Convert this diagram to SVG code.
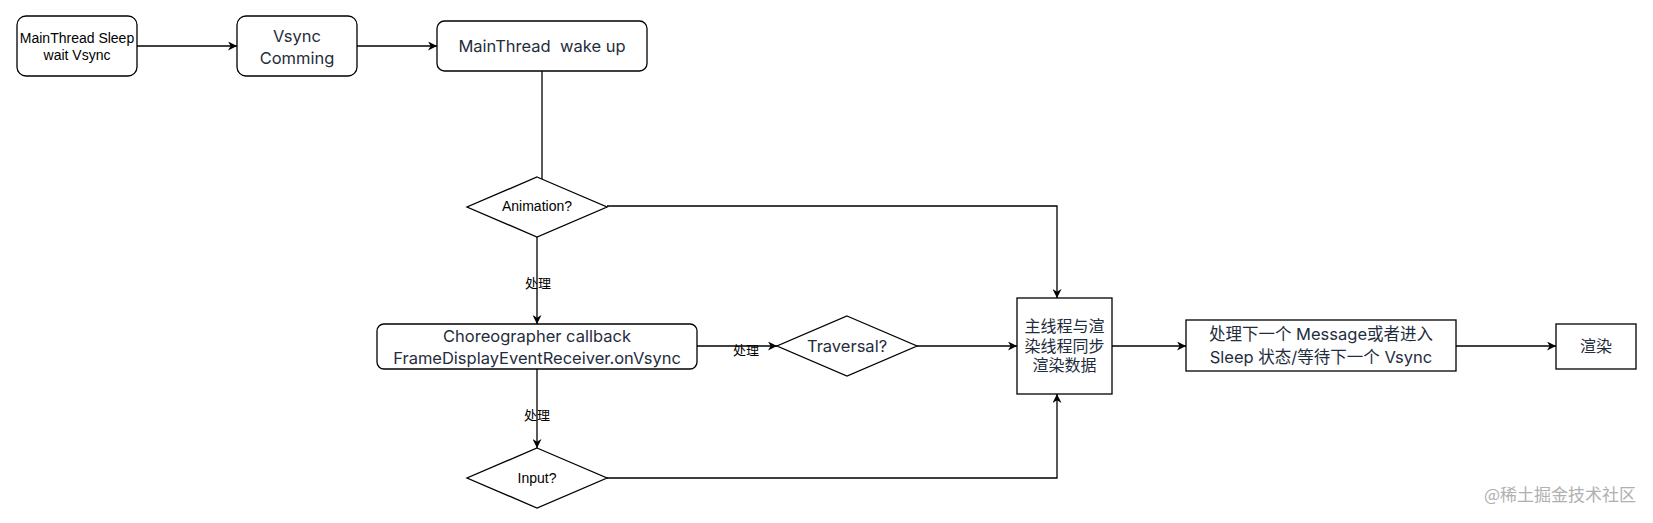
<svg xmlns="http://www.w3.org/2000/svg" width="1653" height="523" viewBox="0 0 1653 523">
<style>
.box{fill:#fff;stroke:#000;stroke-width:1.3}
.t14{font-family:"Liberation Sans",Arial,sans-serif;font-size:14px;fill:#000;text-anchor:middle;dominant-baseline:central}
.t16{font-family:Inter,"Noto Sans CJK SC",sans-serif;font-size:16.5px;fill:#1f2d3d;text-anchor:middle;dominant-baseline:central}
.cjk{font-family:Inter,"Noto Sans CJK SC",sans-serif;font-size:16px;fill:#1f2d3d;text-anchor:middle;dominant-baseline:central}
.lbl{font-family:"Noto Sans CJK SC",sans-serif;font-size:13px;fill:#000;text-anchor:middle;dominant-baseline:central}
.edge{fill:none;stroke:#000;stroke-width:1.3}
.wm{font-family:"Noto Sans CJK SC",sans-serif;font-size:17px;fill:#b0b0b0;text-anchor:end;dominant-baseline:central}
</style>
<defs>
<marker id="arr" viewBox="0 0 10 10" refX="10" refY="5" markerWidth="9" markerHeight="9" markerUnits="userSpaceOnUse" orient="auto">
<path d="M0,0 L10,5 L0,10 L3,5 z" fill="#000"/>
</marker>
</defs>
<rect width="1653" height="523" fill="#fff"/>
<g id="connectors">
<path class="edge" d="M137,46 H237" marker-end="url(#arr)"/>
<path class="edge" d="M357,46 H437" marker-end="url(#arr)"/>
<path class="edge" d="M542,71 V179"/>
<path class="edge" d="M537,237 V324" marker-end="url(#arr)"/>
<path class="edge" d="M607,206 H1057 V298" marker-end="url(#arr)"/>
<path class="edge" d="M697,346 H777" marker-end="url(#arr)"/>
<path class="edge" d="M537,369 V448" marker-end="url(#arr)"/>
<path class="edge" d="M917,346 H1017" marker-end="url(#arr)"/>
<path class="edge" d="M607,478 H1057 V394" marker-end="url(#arr)"/>
<path class="edge" d="M1112,346 H1186" marker-end="url(#arr)"/>
<path class="edge" d="M1456,346 H1556" marker-end="url(#arr)"/>
<text class="lbl" x="538" y="282">处理</text>
<text class="lbl" x="746" y="349">处理</text>
<text class="lbl" x="537" y="414">处理</text>
</g>
<g id="n-sleep">
<rect class="box" x="17" y="16" width="120" height="60" rx="9"/>
<text class="t14" x="77" y="38">MainThread Sleep</text>
<text class="t14" x="77" y="55">wait Vsync</text>
</g>
<g id="n-vsync">
<rect class="box" x="237" y="16" width="120" height="60" rx="9"/>
<text class="t16" x="297" y="36">Vsync</text>
<text class="t16" x="297" y="58">Comming</text>
</g>
<g id="n-wake">
<rect class="box" x="437" y="21" width="210" height="50" rx="7.5"/>
<text class="t16" x="542" y="46" xml:space="preserve">MainThread  wake up</text>
</g>
<g id="n-animation">
<polygon class="box" points="537,177 607,207 537,237 467,207"/>
<text class="t14" x="537" y="206">Animation?</text>
</g>
<g id="n-choreo">
<rect class="box" x="377" y="324" width="320" height="45" rx="7"/>
<text class="t16" x="537" y="336">Choreographer callback</text>
<text class="t16" x="537" y="358">FrameDisplayEventReceiver.onVsync</text>
</g>
<g id="n-traversal">
<polygon class="box" points="847,316 917,346 847,376 777,346"/>
<text class="t16" x="847" y="346">Traversal?</text>
</g>
<g id="n-input">
<polygon class="box" points="537,448 607,478 537,508 467,478"/>
<text class="t14" x="537" y="478">Input?</text>
</g>
<g id="n-sync">
<rect class="box" x="1017" y="298" width="95" height="96"/>
<text class="cjk" x="1064.5" y="326">主线程与渲</text>
<text class="cjk" x="1064.5" y="345.5">染线程同步</text>
<text class="cjk" x="1064.5" y="365">渲染数据</text>
</g>
<g id="n-next">
<rect class="box" x="1186" y="320" width="270" height="51"/>
<text class="t16" x="1321" y="334">处理下一个 Message或者进入</text>
<text class="t16" x="1321" y="357">Sleep 状态/等待下一个 Vsync</text>
</g>
<g id="n-render">
<rect class="box" x="1556" y="324" width="80" height="45"/>
<text class="cjk" x="1596" y="346">渲染</text>
</g>
<text class="wm" x="1636" y="493">@稀土掘金技术社区</text>
</svg>
